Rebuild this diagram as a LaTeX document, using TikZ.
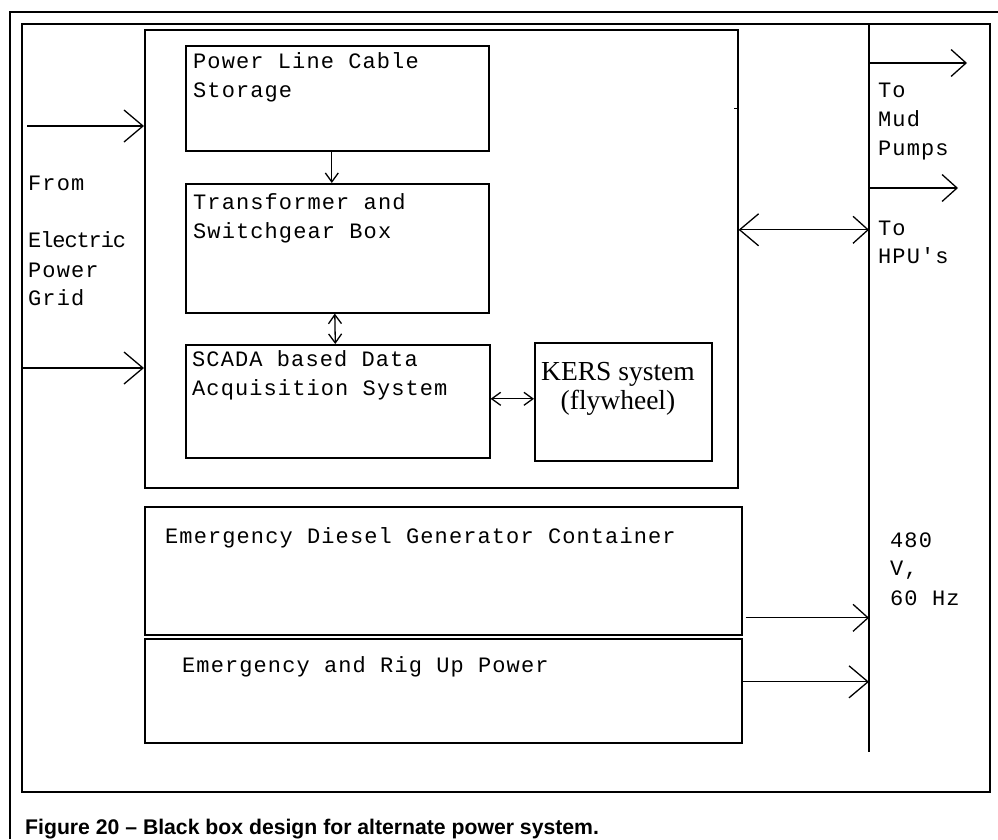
\documentclass[tikz,border=0pt]{standalone}
\usepackage{fontspec}
\setmainfont{Liberation Sans}
\newfontfamily\pix[LetterSpace=5]{Liberation Mono}
\newfontfamily\pixn[LetterSpace=-5]{Liberation Mono}
\newfontfamily\tms{Liberation Serif}
\usetikzlibrary{arrows.meta}
\begin{document}
\begin{tikzpicture}[x=1pt,y=-1pt,
  boxst/.style={draw, line width=1.6pt, inner sep=0pt, anchor=north west},
  lbl/.style={anchor=base west, inner sep=0pt, font=\pix\fontsize{22}{22}\selectfont},
  lbln/.style={anchor=base west, inner sep=0pt, font=\pixn\fontsize{22}{22}\selectfont},
  conn/.style={line width=1.3pt},
  bigtip/.tip={Straight Barb[length=19pt,width=32pt,line width=1.3pt]},
  midtip/.tip={Straight Barb[length=15pt,width=27pt,line width=1.3pt]},
  smltip/.tip={Straight Barb[length=9pt,width=13pt,line width=1.3pt]}]
\useasboundingbox (0,0) rectangle (998,839);
% outer frame (open at right and bottom)
\draw[line width=2.5pt] (10,839) -- (10,12) -- (998,12);
% inner frame
\node[boxst, line width=2pt, minimum width=968pt, minimum height=768pt] (frame) at (21,23) {};
% boxes
\node[boxst, minimum width=593pt, minimum height=458pt] (main) at (144,29) {};
\node[boxst, minimum width=303pt, minimum height=105pt] (plc) at (185,45) {};
\node[boxst, minimum width=303pt, minimum height=129pt] (trans) at (185,183) {};
\node[boxst, minimum width=304pt, minimum height=113pt] (scada) at (185,344) {};
\node[boxst, minimum width=177pt, minimum height=118pt] (kers) at (534,342) {};
\node[boxst, minimum width=597pt, minimum height=128pt] (diesel) at (144,506) {};
\node[boxst, minimum width=597pt, minimum height=104pt] (rig) at (144,638) {};
% bus
\coordinate (bustop) at (869,25);
\coordinate (busbot) at (869,752);
\draw[conn] (bustop) -- (busbot);
% small tick on main box
\draw[line width=1pt] (737,108) -- (734,108);
% texts
\node[lbl] (t1) at (193,68) {Power Line Cable};
\node[lbl] (t2) at (193,97) {Storage};
\node[lbl] (t3) at (193,209) {Transformer and};
\node[lbl] (t4) at (193,238) {Switchgear Box};
\node[lbl] (t5) at (192,366) {SCADA based Data};
\node[lbl] (t6) at (192,395) {Acquisition System};
\node[lbl] (t7) at (28,190) {From};
\node[lbln] (t8) at (28,247) {Electric};
\node[lbl] (t9) at (28,277) {Power};
\node[lbl] (t10) at (28,305) {Grid};
\node[lbl] (t11) at (878,97) {To};
\node[lbl] (t12) at (878,126) {Mud};
\node[lbl] (t13) at (878,155) {Pumps};
\node[lbl] (t14) at (878,235) {To};
\node[lbl] (t15) at (878,263) {HPU's};
\node[lbl] (t16) at (890,547) {480};
\node[lbl] (t17) at (890,575) {V,};
\node[lbl] (t18) at (890,605) {60 Hz};
\node[lbl] (t19) at (165,543) {Emergency Diesel Generator Container};
\node[lbl] (t20) at (182,672) {Emergency and Rig Up Power};
\node[anchor=base, inner sep=0pt, font=\tms\fontsize{27.5}{27.5}\selectfont] (k1) at (618,380) {KERS system};
\node[anchor=base, inner sep=0pt, font=\tms\fontsize{27.5}{27.5}\selectfont] (k2) at (618,409) {(flywheel)};
\node[anchor=base west, inner sep=0pt, font=\bfseries\fontsize{21.2}{21.2}\selectfont] (cap) at (25,834) {Figure 20 -- Black box design for alternate power system.};
% connectors
\draw[conn, -smltip] ([xshift=-5.5pt]plc.south) -- ([xshift=-5.5pt]trans.north);
\draw[conn, smltip-smltip] ([xshift=-2.5pt]trans.south) -- ([xshift=-2.5pt]scada.north);
\draw[conn, smltip-smltip] ([yshift=2.5pt]scada.east) -- ([yshift=2.5pt]scada.east -| kers.west);
\draw[conn, bigtip-midtip] ([yshift=29pt]main.east) -- ([yshift=29pt]main.east -| bustop);
\coordinate (in1) at (27,126);
\coordinate (in2) at (21,368);
\draw[conn, -bigtip] (in1) -- (in1 -| main.west);
\draw[conn, -bigtip] (in2) -- (in2 -| main.west);
\coordinate (out1) at (967,63);
\coordinate (out2) at (958,188);
\draw[conn, -midtip] (out1 -| bustop) -- (out1);
\draw[conn, -midtip] (out2 -| bustop) -- (out2);
\draw[conn, -midtip] ([shift={(3pt,-47pt)}]diesel.east) -- ([yshift=-47pt]diesel.east -| bustop);
\draw[conn, -bigtip] ([yshift=9pt]rig.east) -- ([yshift=9pt]rig.east -| bustop);
\end{tikzpicture}
\end{document}
